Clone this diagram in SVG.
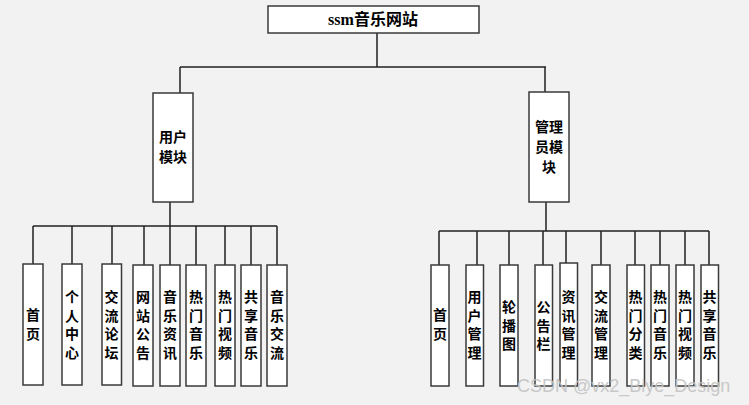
<svg xmlns="http://www.w3.org/2000/svg" width="749" height="405" viewBox="0 0 749 405">
<style>
.bg{fill:#f2f2f2}
.box{fill:#ffffff;stroke:#3a3a3a;stroke-width:1.5}
.ln{stroke:#222;stroke-width:1.5;fill:none}
.t{font-family:"Noto Sans CJK SC","Noto Sans",sans-serif;font-size:14px;font-weight:bold;fill:#000;text-anchor:middle}
.title{font-family:"Liberation Serif","Noto Sans CJK SC",serif;font-size:16px;font-weight:bold;fill:#000;text-anchor:middle}
.wm{font-family:"Liberation Sans",Arial,sans-serif;font-size:18px;fill:#c4c4c4;opacity:0.9}
</style>
<rect class="bg" x="0" y="0" width="749" height="405"/>
<g id="connectors">
<path class="ln" d="M377 33V67M180 67H546M180 67V93M545 67V92"/>
<path class="ln" d="M170 202V226M33 226H277M33 226V264M72 226V264M112 226V264M144 226V265M170 226V265M196 226V265M225 226V265M251 226V265M277 226V265"/>
<path class="ln" d="M546 202V231M439 231H709M439 231V265M477 231V265M509 231V265M543 231V265M566 231V263M601 231V265M635 231V265M660 231V265M685 231V265M709 231V265"/>
</g>
<g id="root"><rect class="box" x="268" y="6" width="211" height="27"/><text class="title" x="373" y="25">ssm音乐网站</text></g>
<g id="user"><rect class="box" x="153" y="93" width="40" height="109"/><text class="t" x="173" y="141.5">用户</text><text class="t" x="173" y="161.5">模块</text></g>
<g id="admin"><rect class="box" x="529" y="92" width="40" height="110"/><text class="t" x="549" y="132">管理</text><text class="t" x="549" y="152">员模</text><text class="t" x="549" y="172">块</text></g>

<g id="u1"><rect class="box" x="23" y="264" width="20" height="121"/><text class="t"><tspan x="33" y="320">首</tspan><tspan x="33" y="338.5">页</tspan></text></g>
<g id="u2"><rect class="box" x="62" y="264" width="20" height="121"/><text class="t"><tspan x="72" y="302">个</tspan><tspan x="72" y="320.5">人</tspan><tspan x="72" y="339">中</tspan><tspan x="72" y="357.5">心</tspan></text></g>
<g id="u3"><rect class="box" x="102" y="264" width="19.5" height="121"/><text class="t"><tspan x="111.5" y="302">交</tspan><tspan x="111.5" y="320.5">流</tspan><tspan x="111.5" y="339">论</tspan><tspan x="111.5" y="357.5">坛</tspan></text></g>
<g id="u4"><rect class="box" x="133" y="265" width="20" height="121"/><text class="t"><tspan x="143" y="302">网</tspan><tspan x="143" y="320.5">站</tspan><tspan x="143" y="339">公</tspan><tspan x="143" y="357.5">告</tspan></text></g>
<g id="u5"><rect class="box" x="160" y="265" width="20" height="121"/><text class="t"><tspan x="170" y="302">音</tspan><tspan x="170" y="320.5">乐</tspan><tspan x="170" y="339">资</tspan><tspan x="170" y="357.5">讯</tspan></text></g>
<g id="u6"><rect class="box" x="186" y="265" width="20" height="121"/><text class="t"><tspan x="196" y="302">热</tspan><tspan x="196" y="320.5">门</tspan><tspan x="196" y="339">音</tspan><tspan x="196" y="357.5">乐</tspan></text></g>
<g id="u7"><rect class="box" x="215" y="265" width="20" height="121"/><text class="t"><tspan x="225" y="302">热</tspan><tspan x="225" y="320.5">门</tspan><tspan x="225" y="339">视</tspan><tspan x="225" y="357.5">频</tspan></text></g>
<g id="u8"><rect class="box" x="241" y="265" width="20" height="121"/><text class="t"><tspan x="251" y="302">共</tspan><tspan x="251" y="320.5">享</tspan><tspan x="251" y="339">音</tspan><tspan x="251" y="357.5">乐</tspan></text></g>
<g id="u9"><rect class="box" x="267" y="265" width="20" height="121"/><text class="t"><tspan x="277" y="302">音</tspan><tspan x="277" y="320.5">乐</tspan><tspan x="277" y="339">交</tspan><tspan x="277" y="357.5">流</tspan></text></g>

<g id="a1"><rect class="box" x="431" y="265" width="18" height="121"/><text class="t"><tspan x="440" y="320">首</tspan><tspan x="440" y="338.5">页</tspan></text></g>
<g id="a2"><rect class="box" x="466" y="265" width="17.5" height="121"/><text class="t"><tspan x="474.5" y="302">用</tspan><tspan x="474.5" y="320.5">户</tspan><tspan x="474.5" y="339">管</tspan><tspan x="474.5" y="357.5">理</tspan></text></g>
<g id="a3"><rect class="box" x="500" y="265" width="18" height="121"/><text class="t"><tspan x="509" y="312">轮</tspan><tspan x="509" y="330.5">播</tspan><tspan x="509" y="349">图</tspan></text></g>
<g id="a4"><rect class="box" x="535" y="265" width="17.5" height="121"/><text class="t"><tspan x="543.5" y="312">公</tspan><tspan x="543.5" y="330.5">告</tspan><tspan x="543.5" y="349">栏</tspan></text></g>
<g id="a5"><rect class="box" x="560" y="263" width="17.5" height="123"/><text class="t"><tspan x="568.5" y="302">资</tspan><tspan x="568.5" y="320.5">讯</tspan><tspan x="568.5" y="339">管</tspan><tspan x="568.5" y="357.5">理</tspan></text></g>
<g id="a6"><rect class="box" x="592" y="265" width="18" height="121"/><text class="t"><tspan x="601" y="302">交</tspan><tspan x="601" y="320.5">流</tspan><tspan x="601" y="339">管</tspan><tspan x="601" y="357.5">理</tspan></text></g>
<g id="a7"><rect class="box" x="627" y="265" width="17.5" height="121"/><text class="t"><tspan x="635.5" y="302">热</tspan><tspan x="635.5" y="320.5">门</tspan><tspan x="635.5" y="339">分</tspan><tspan x="635.5" y="357.5">类</tspan></text></g>
<g id="a8"><rect class="box" x="651" y="265" width="18" height="121"/><text class="t"><tspan x="660" y="302">热</tspan><tspan x="660" y="320.5">门</tspan><tspan x="660" y="339">音</tspan><tspan x="660" y="357.5">乐</tspan></text></g>
<g id="a9"><rect class="box" x="676" y="265" width="18" height="121"/><text class="t"><tspan x="685" y="302">热</tspan><tspan x="685" y="320.5">门</tspan><tspan x="685" y="339">视</tspan><tspan x="685" y="357.5">频</tspan></text></g>
<g id="a10"><rect class="box" x="701" y="265" width="17.5" height="121"/><text class="t"><tspan x="709.5" y="302">共</tspan><tspan x="709.5" y="320.5">享</tspan><tspan x="709.5" y="339">音</tspan><tspan x="709.5" y="357.5">乐</tspan></text></g>

<text class="wm" x="517" y="392">CSDN @vx2_Biye_Design</text>
</svg>
